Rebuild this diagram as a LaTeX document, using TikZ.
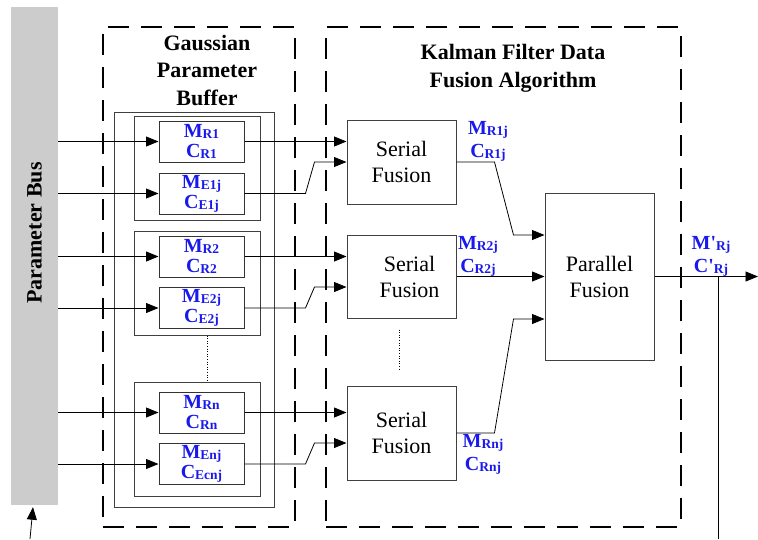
\documentclass[tikz,border=0pt]{standalone}
\usepackage{fontspec}
\setmainfont{Liberation Serif}
\usetikzlibrary{arrows.meta}
\definecolor{lblblue}{RGB}{25,25,235}
\newcommand{\sbs}[1]{\raisebox{-1pt}{\fontsize{13.5}{13.5}\selectfont #1}}

\begin{document}
\begin{tikzpicture}[x=1pt, y=-1pt,
        cell/.style={draw=black!80, line width=1pt, minimum width=85pt, minimum height=41pt, inner sep=0pt,
                align=center, text=lblblue, font=\bfseries\fontsize{20}{20}\selectfont},
        grp/.style={draw=black!75, line width=1pt, minimum width=126pt, inner sep=0pt},
        dashframe/.style={draw=black, line width=2.8pt, dash pattern=on 21pt off 12pt,
                minimum height=500pt, inner sep=0pt},
        fuse/.style={draw=black!75, line width=1pt, minimum width=109pt, inner sep=0pt,
                align=center, font=\fontsize{22}{26}\selectfont},
        lbl/.style={align=center, inner sep=0pt, text=lblblue, font=\bfseries\fontsize{20}{23}\selectfont},
        ttl/.style={align=center, inner sep=0pt, font=\bfseries\fontsize{22}{27.5}\selectfont},
        wire/.style={line width=0.8pt},
        arr/.style={line width=0.8pt, -{Triangle[length=12.5pt,width=10pt]}}]
        \useasboundingbox (0,0) rectangle (758,539);

        % parameter bus
        \node[fill=gray!40, minimum width=47pt, minimum height=498pt, inner sep=0pt] (bus) at (34.5,256) {};
        \node[rotate=90, inner sep=0pt, font=\bfseries\fontsize{22}{22}\selectfont] (buslbl) at (34.5,233) {Parameter Bus};

        % the two dashed frames
        \node[dashframe, minimum width=192pt] (buf) at (199,277) {};
        \node[dashframe, minimum width=355pt] (kal) at (503.5,277) {};
        \node[ttl] (buftitle) at (207,70) {Gaussian\\Parameter\\Buffer};
        \node[ttl] (kaltitle) at (513,68.5) {Kalman Filter Data\\Fusion Algorithm};

        % buffer cells
        \node[draw=black!75, line width=1pt, minimum width=160pt, minimum height=395pt, inner sep=0pt] (outer) at (194,309.5) {};
        \node[grp, minimum height=104pt] (g1) at (197,168) {};
        \node[grp, minimum height=104pt] (g2) at (197,283) {};
        \node[grp, minimum height=114pt] (gn) at (197,439) {};

        \node[cell] (m1) at (201.5,141.5) {M\sbs{R1}\\C\sbs{R1}};
        \node[cell] (e1) at (201.5,193.5) {M\sbs{E1j}\\C\sbs{E1j}};
        \node[cell] (m2) at (201.5,256.5) {M\sbs{R2}\\C\sbs{R2}};
        \node[cell] (e2) at (201.5,308) {M\sbs{E2j}\\C\sbs{E2j}};
        \node[cell] (mn) at (201.5,412.5) {M\sbs{Rn}\\C\sbs{Rn}};
        \node[cell] (en) at (201.5,464) {M\sbs{Enj}\\C\sbs{Ecnj}};

        \draw[dotted, line width=0.6pt] ([xshift=10pt]g2.south) -- ([xshift=10pt]gn.north);

        % fusion blocks
        \node[fuse, minimum height=84pt] (s1) at (401.5,162) {Serial\\Fusion};
        \node[fuse, minimum height=83pt] (s2) at (401.5,276.5) {\hspace*{16pt}Serial\\\hspace*{16pt}Fusion};
        \node[fuse, minimum height=94pt] (s3) at (401.5,433) {Serial\\Fusion};
        \node[fuse, minimum height=167pt] (p) at (599.5,276.5) {Parallel\\Fusion};

        \draw[dotted, line width=0.6pt] ([xshift=-2.5pt,yshift=-11pt]s2.south) -- ([xshift=-2.5pt,yshift=16pt]s3.north);

        % bus to cells
        \draw[arr] (bus.east |- m1) -- (m1);
        \draw[arr] (bus.east |- e1) -- (e1);
        \draw[arr] (bus.east |- m2) -- (m2);
        \draw[arr] (bus.east |- e2) -- (e2);
        \draw[arr] (bus.east |- mn) -- (mn);
        \draw[arr] (bus.east |- en) -- (en);

        \coordinate (busin) at (30,539);
        \draw[arr] (busin) -- ([xshift=-1.5pt,yshift=-2pt]bus.south);

        % cells to serial fusion
        \draw[arr] (m1.east) -- (m1.east -| s1.west);
        \draw[arr] (e1.east) -- ++(61,0) -- ([xshift=-32pt]s1.west) -- (s1.west);
        \draw[arr] (m2.east) -- (m2.east -| s2.west);
        \draw[arr] (e2.east) -- ++(61,0) -- ([xshift=-32pt,yshift=-10.5pt]s2.west) -- ([yshift=-10.5pt]s2.west);
        \draw[arr] (mn.east) -- (mn.east -| s3.west);
        \draw[arr] (en.east) -- ++(61,0) -- ([xshift=-32pt,yshift=-10pt]s3.west) -- ([yshift=-10pt]s3.west);

        % serial to parallel
        \draw[arr] (s1.east) -- ++(38,0) -- ([xshift=-31pt,yshift=41.5pt]p.west) -- ([yshift=41.5pt]p.west);
        \draw[arr] (s2.east) -- (p.west);
        \draw[arr] (s3.east) -- ++(38,0) -- ([xshift=-31pt,yshift=-42.5pt]p.west) -- ([yshift=-42.5pt]p.west);

        % output
        \coordinate (out) at (758,276.5);
        \coordinate (tap) at (718,276.5);
        \coordinate (tapend) at (718,539);
        \draw[arr] (p.east) -- (out);
        \draw[wire] (tap) -- (tapend);

        \node[lbl] (o1) at (488,141.5) {M\sbs{R1j}\\C\sbs{R1j}};
        \node[lbl] (o2) at (478,256.5) {M\sbs{R2j}\\C\sbs{R2j}};
        \node[lbl] (on) at (483,454) {M\sbs{Rnj}\\C\sbs{Rnj}};
        \node[lbl] (ofin) at (711,256.5) {M\textquotesingle\sbs{Rj}\\C\textquotesingle\sbs{Rj}};
    \end{tikzpicture}
\end{document}
